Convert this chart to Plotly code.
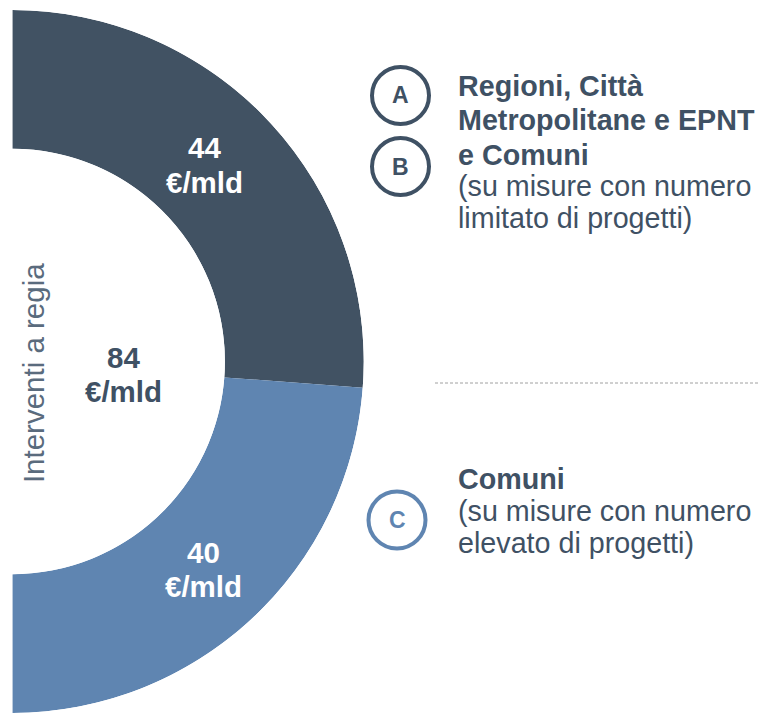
import plotly.graph_objects as go
import numpy as np

# ---- data ----
segment_names = ["Regioni, Città Metropolitane e EPNT e Comuni", "Comuni"]
segment_values = [44, 40]          # €/mld
segment_value_text = ["44", "40"]
unit = "€/mld"
total_text = "84"
axis_title = "Interventi a regia"
badge_letters = ["A", "B", "C"]
block1_lines = ["<b>Regioni, Città</b>", "<b>Metropolitane e EPNT</b>", "<b>e Comuni</b>",
                "(su misure con numero", "limitato di progetti)"]
block2_lines = ["<b>Comuni</b>", "(su misure con numero", "elevato di progetti)"]

DARK = "#415263"
LIGHT = "#5F85B1"
TEXT = "#3F5164"
GREY = "#5A6B7D"

W, H = 759, 713
ML, MT, MR, MB = 12, 10, 0, 0
PW, PH = W - ML - MR, H - MT - MB


def px(x):
    return (x - ML) / PW


def py(y):
    return 1 - (y - MT) / PH


vals = np.array(segment_values, dtype=float)
spans = vals / vals.sum() * 180.0
starts = np.concatenate([[0], np.cumsum(spans)[:-1]])
centers = starts + spans / 2

fig = go.Figure()
fig.add_trace(go.Barpolar(
    r=[1] * len(vals), theta=centers, width=spans,
    marker=dict(color=[DARK, LIGHT], line=dict(width=0)),
    hoverinfo="skip", showlegend=False,
))

fig.update_layout(
    width=W, height=H,
    margin=dict(l=ML, r=MR, t=MT, b=MB, pad=0),
    paper_bgcolor="white", plot_bgcolor="white",
    showlegend=False,
    polar=dict(
        domain=dict(x=[0, 352 / PW], y=[0, 1]),
        sector=[-90, 90],
        hole=0.605,
        bgcolor="white",
        radialaxis=dict(visible=False, range=[0, 1], showgrid=False),
        angularaxis=dict(visible=False, rotation=90, direction="clockwise",
                         showgrid=False, thetaunit="degrees"),
    ),
    font=dict(family="Liberation Sans, Arial, sans-serif"),
)

ann = []


def add_text(text, x, y, size, color, xanchor="center", angle=0):
    ann.append(dict(x=px(x), y=py(y), xref="paper", yref="paper", text=text,
                    showarrow=False, font=dict(size=size, color=color), textangle=angle,
                    xanchor=xanchor, yanchor="middle"))


# segment labels
LS = 29.5
for val, x, (y1, y2) in zip(segment_value_text, [204.5, 203.7], [(147.7, 182.7), (552.7, 586.1)]):
    add_text(f"<b>{val}</b>", x, y1, LS, "white")
    add_text(f"<b>{unit}</b>", x, y2, LS, "white")
add_text(f"<b>{total_text}</b>", 123.3, 357.7, LS, TEXT)
add_text(f"<b>{unit}</b>", 123.3, 391.1, LS, TEXT)
add_text(axis_title, 33.1, 373, 29.5, GREY, angle=-90)

# right-side text blocks
TS = 28.7
for line, y in zip(block1_lines, [86.4, 119.7, 154.7, 186.4, 218.0]):
    add_text(line, 455.5, y, TS, TEXT, xanchor="left")
for line, y in zip(block2_lines, [478.7, 511.4, 543.0]):
    add_text(line, 455.5, y, TS, TEXT, xanchor="left")

shapes = []
badges = [(badge_letters[0], 400.5, 95.5, TEXT), (badge_letters[1], 400.5, 166.5, TEXT),
          (badge_letters[2], 397, 520, LIGHT)]
r = 28.5
for letter, cx, cy, col in badges:
    shapes.append(dict(type="circle", xref="paper", yref="paper",
                       x0=px(cx - r), x1=px(cx + r), y0=py(cy + r), y1=py(cy - r),
                       line=dict(color=col, width=4), fillcolor="white"))
    add_text(f"<b>{letter}</b>", cx, cy, 23, col)

shapes.append(dict(type="line", xref="paper", yref="paper",
                   x0=px(435), x1=px(759), y0=py(383), y1=py(383),
                   line=dict(color="#A0A0A0", width=1, dash="3px,2px")))

fig.update_layout(annotations=ann, shapes=shapes)
fig.write_html("out.html", config={"displayModeBar": False},
               post_script="document.body.style.margin='0';document.body.style.padding='0';")
